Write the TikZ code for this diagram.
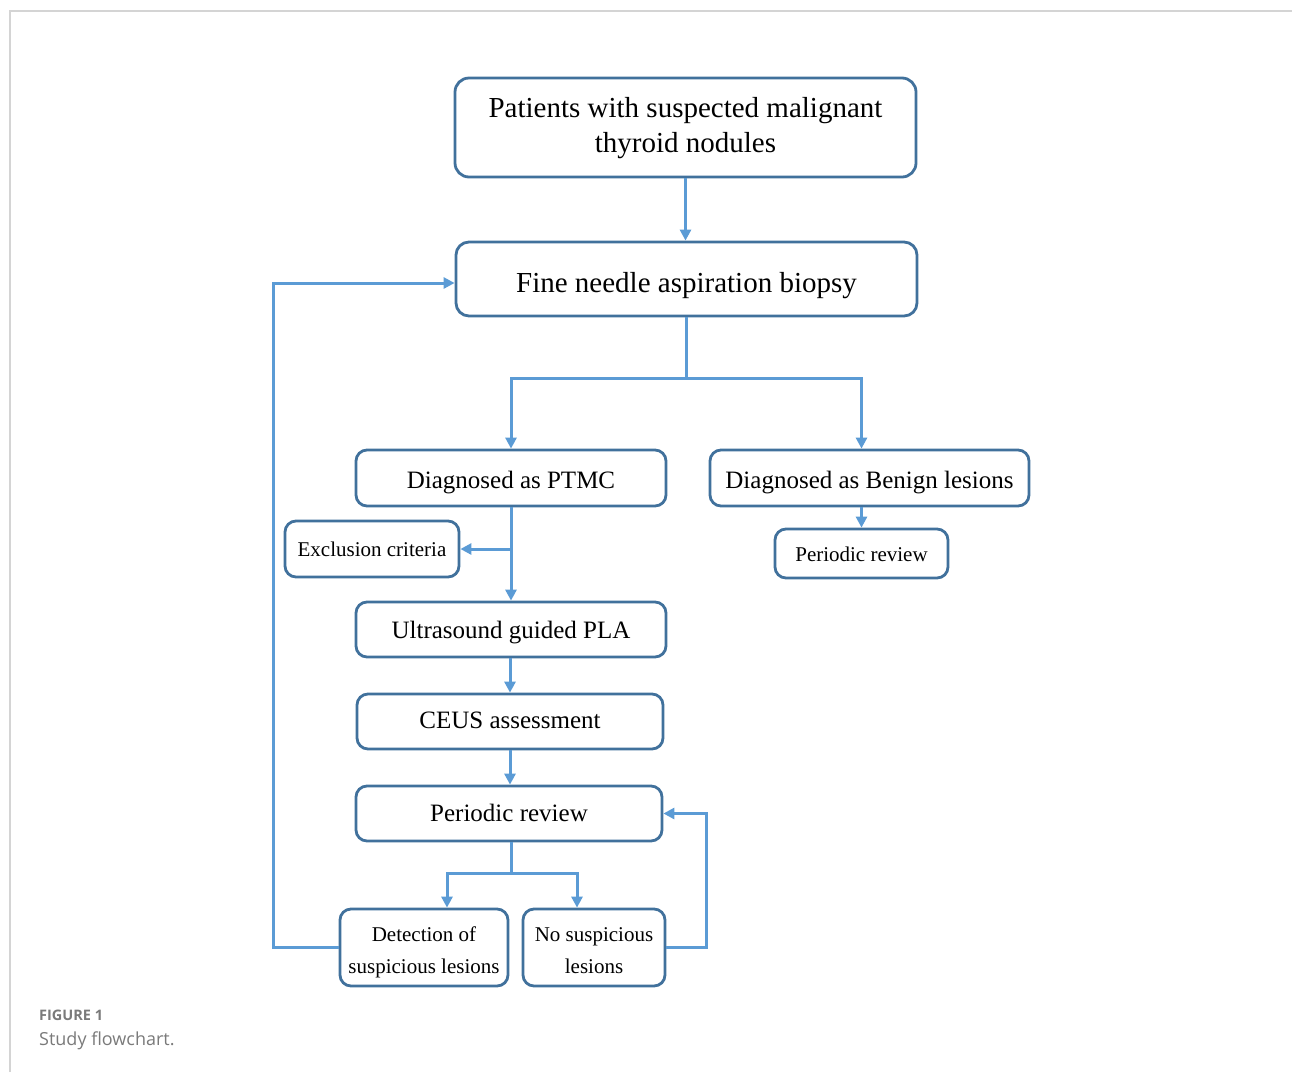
\documentclass[tikz,border=0pt]{standalone}
\usepackage{fontspec}
\setmainfont{Liberation Serif}
\newfontfamily\capfont{Open Sans}
\usetikzlibrary{arrows.meta,calc}
\definecolor{bordc}{HTML}{41719C}
\definecolor{arrc}{HTML}{5B9BD5}
\definecolor{capc}{HTML}{7A7A7A}
\definecolor{framec}{HTML}{D4D4D4}
\newcommand\boxtext[2]{\raisebox{#1pt}[0pt][0pt]{\begin{tabular}[t]{@{}c@{}}#2\end{tabular}}}
\tikzset{
  box/.style={draw=bordc, line width=2.8pt, rounded corners=11pt, align=center, inner sep=0pt, fill=white},
  bigtxt/.style={font=\fontsize{29}{35}\selectfont},
  midtxt/.style={font=\fontsize{25}{30}\selectfont},
  smalltxt/.style={font=\fontsize{21}{32}\selectfont},
  ln/.style={draw=arrc, line width=3pt},
  arr/.style={ln, -{Triangle[width=11pt,length=11pt]}}
}
\begin{document}
\begin{tikzpicture}[x=1pt,y=-1pt]
\useasboundingbox (0,0) rectangle (1292,1072);
\draw[framec, line width=1.5pt] (10,1072) -- (10,11) -- (1292,11);

\node[box, bigtxt, minimum width=461pt, minimum height=99pt, rounded corners=14pt] (top) at (685.5,127.5) {\boxtext{10.5}{Patients with suspected malignant\\thyroid nodules}};
\node[box, bigtxt, minimum width=461pt, minimum height=74pt, rounded corners=13pt] (fnab) at (686.5,279) {\boxtext{-13.7}{Fine needle aspiration biopsy}};
\node[box, midtxt, minimum width=310pt, minimum height=56pt] (ptmc) at (511,478) {\boxtext{-10.3}{Diagnosed as PTMC}};
\node[box, midtxt, minimum width=319pt, minimum height=56pt] (benign) at (869.5,478) {\boxtext{-10}{Diagnosed as Benign lesions}};
\node[box, smalltxt, minimum width=174pt, minimum height=56pt] (excl) at (372,549) {\boxtext{-7.7}{Exclusion criteria}};
\node[box, smalltxt, minimum width=173pt, minimum height=49pt] (prr) at (861.5,553.5) {\boxtext{-8.2}{Periodic review}};
\node[box, midtxt, minimum width=310pt, minimum height=55pt] (us) at (511,629.5) {\boxtext{-8.8}{Ultrasound guided PLA}};
\node[box, midtxt, minimum width=306pt, minimum height=55pt] (ceus) at (510,721.5) {\boxtext{-6.8}{CEUS assessment}};
\node[box, midtxt, minimum width=306pt, minimum height=55pt] (pr) at (509,813.5) {\boxtext{-8.2}{Periodic review}};
\node[box, smalltxt, minimum width=168pt, minimum height=77pt] (det) at (424,947.5) {\boxtext{6.5}{Detection of\\suspicious lesions}};
\node[box, smalltxt, minimum width=142pt, minimum height=77pt] (nos) at (594,947.5) {\boxtext{6.5}{No suspicious\\lesions}};

\coordinate (split1) at (686,378);
\coordinate (split2) at (511,873);

\draw[arr] (top.south) -- (top.south |- fnab.north);
\draw[ln] (fnab.south -| split1) -- (split1);
\draw[arr] (split1) -| (ptmc.north);
\draw[arr] (split1) -| (prr.north |- benign.north);
\draw[arr] (prr.north |- benign.south) -- (prr.north);
\draw[arr] (ptmc.south) -- (us.north);
\draw[arr] (ptmc.south |- excl.east) -- (excl.east);
\draw[arr] (us.south -| ceus.north) -- (ceus.north);
\draw[arr] (ceus.south) -- (ceus.south |- pr.north);
\draw[ln] (pr.south -| split2) -- (split2);
\draw[arr] (split2) -| ($(det.north)+(23,0)$);
\draw[arr] (split2) -| ($(nos.north)+(-17,0)$);
\draw[arr] (det.west) -- ++(-65,0) |- ($(fnab.west)+(0,4)$);
\draw[arr] (nos.east) -- ++(40,0) |- (pr.east);

\node[anchor=base west, inner sep=0pt, text=capc, font=\capfont\bfseries\fontsize{14.5}{16}\selectfont] (figlab) at (39,1020) {FIGURE 1};
\node[anchor=base west, inner sep=0pt, text=capc, font=\capfont\fontsize{18}{22}\selectfont] (figcap) at (39,1045) {Study flowchart.};
\end{tikzpicture}
\end{document}
